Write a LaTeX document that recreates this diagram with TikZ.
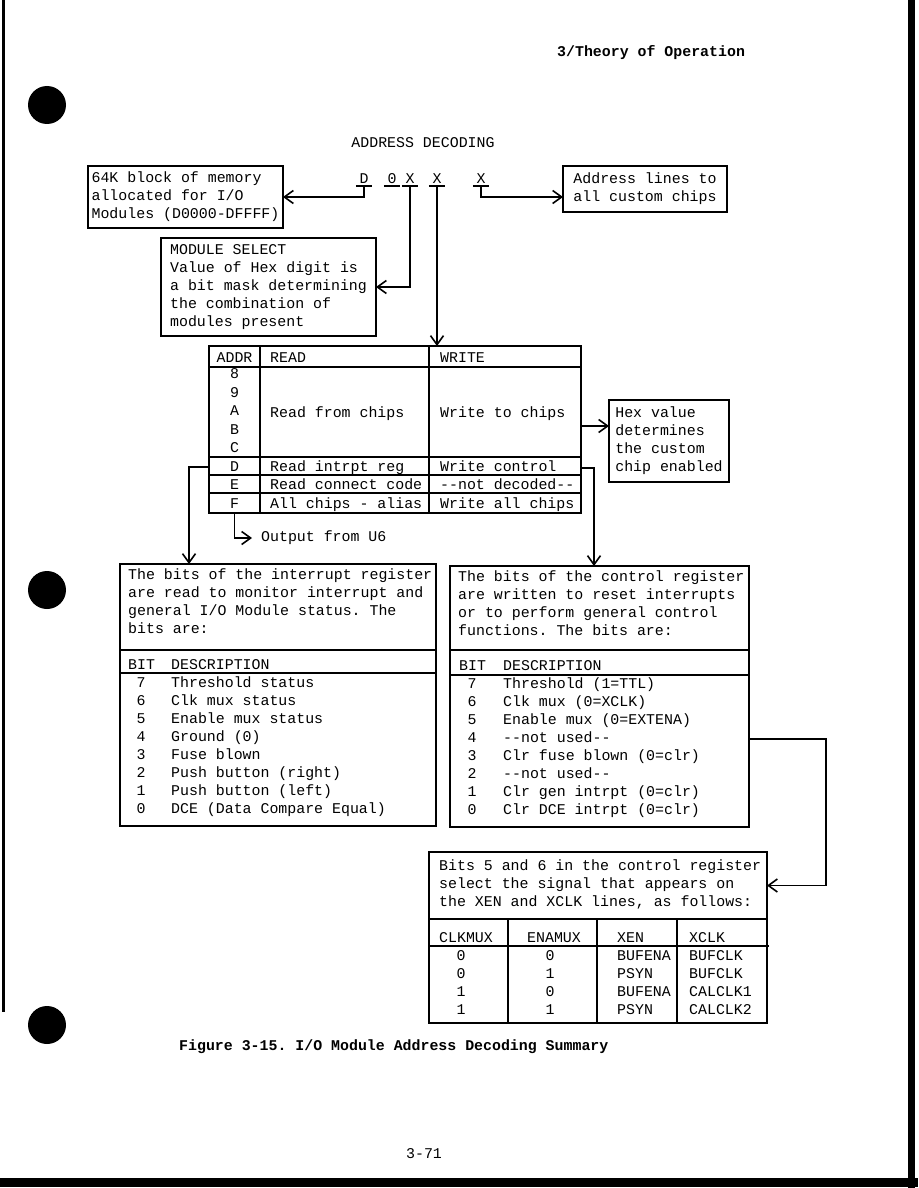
\documentclass[tikz,border=0pt]{standalone}
\usepackage{fontspec}
\setmonofont{Liberation Mono}
\usetikzlibrary{arrows.meta,positioning,calc}

\begin{document}
\begin{tikzpicture}[x=1pt,y=-1pt,font=\ttfamily\fontsize{14.9}{18}\selectfont,>={Straight Barb[length=9pt,width=13pt]},
  box/.style={draw,line width=1.8pt,align=left,inner sep=0pt,outer sep=0pt},
  frame/.style={draw,line width=1.8pt,inner sep=0pt,outer sep=0pt},
  rule/.style={line width=1.8pt},
  wire/.style={line width=1.6pt,->},
  lbl/.style={anchor=base west,inner sep=0pt,align=left},
  mid/.style={anchor=base,inner sep=0pt,align=center},
  digit/.style={anchor=base,inner xsep=3.5pt,inner ysep=3pt},
  bold/.style={font=\ttfamily\bfseries\fontsize{14.9}{18}\selectfont}]
\useasboundingbox (0,0) rectangle (918,1188);
\fill[white] (0,0) rectangle (918,1188);
% page edges and binder holes
\fill (2,0) rectangle (5,1012);
\fill (908,0) rectangle (915,1188);
\fill (0,1178) rectangle (918,1187);
\foreach \hy in {105,590,1025} \fill (47,\hy) circle (19pt);

\node[lbl,bold] (hdr) at (557,57) {3/Theory of Operation};
\node[mid] (ttl) at (423,147) {ADDRESS DECODING};

% address digits
\node[digit] (dD) at (364,183) {D};
\node[digit] (d0) at (392,183) {0};
\node[digit] (dA) at (410,183) {X};
\node[digit] (dB) at (437,183) {X};
\node[digit] (dC) at (481,183) {X};
\foreach \d in {dD,d0,dA,dB,dC} \draw[rule] (\d.south west) -- (\d.south east);

\node[box,minimum width=195pt,minimum height=62pt] (mem) at (185.5,197) {64K block of memory\\allocated for I/O\\Modules (D0000-DFFFF)};
\node[box,minimum width=164pt,minimum height=46pt] (addr) at (645,189) {Address lines to\\all custom chips};
\node[box,minimum width=215pt,minimum height=98pt] (sel) at (268.5,287) {MODULE SELECT\\Value of Hex digit is\\a bit mask determining\\the combination of\\modules present};

% decode table
\node[frame,minimum width=372pt,minimum height=167pt] (tab) at (395,429.5) {};
\draw[rule] (260,346) -- (260,513) (429,346) -- (429,513);
\foreach \ry in {367,457,475,493} \draw[rule] (209,\ry) -- (581,\ry);
\node[mid] (hAddr) at (234.5,362) {ADDR};
\node[lbl] (hRead) at (270,362) {READ};
\node[lbl] (hWrite) at (440,362) {WRITE};
\foreach \hx/\hy in {8/378,9/397,A/415,B/434,C/452,D/471,E/489,F/508}
  \node[mid] (a\hx) at (234.5,\hy) {\hx};
\node[lbl] (rchips) at (270,417) {Read from chips};
\node[lbl] (wchips) at (440,417) {Write to chips};
\node[lbl] (rint) at (270,471) {Read intrpt reg};
\node[lbl] (wctl) at (440,471) {Write control};
\node[lbl] (rconn) at (270,489) {Read connect code};
\node[lbl] (wnot) at (440,489) {-{}-not decoded-{}-};
\node[lbl] (ralias) at (270,508) {All chips - alias};
\node[lbl] (wall) at (440,508) {Write all chips};

\node[box,minimum width=120pt,minimum height=82pt] (hex) at (669,441) {Hex value\\determines\\the custom\\chip enabled};
\node[anchor=west,inner sep=0pt] (u6) at (261,538) {Output from U6};

% interrupt register (multi-line texts sit on their last baseline)
\node[frame,minimum width=316pt,minimum height=86pt,anchor=north west] (inthead) at (120,564) {};
\node[frame,minimum width=316pt,minimum height=176pt,below=0pt of inthead] (intbits) {};
\draw[rule] (120,673) -- (436,673);
\node[lbl] (inttxt) at (128,633) {The bits of the interrupt register\\are read to monitor interrupt and\\general I/O Module status. The\\bits are:};
\node[lbl] (intbit) at (128,669) {BIT};
\node[lbl] (intdesc) at (171,669) {DESCRIPTION};
\node[mid] (intnum) at (141,813) {7\\6\\5\\4\\3\\2\\1\\0};
\node[lbl] (intlist) at (171,813) {Threshold status\\Clk mux status\\Enable mux status\\Ground (0)\\Fuse blown\\Push button (right)\\Push button (left)\\DCE (Data Compare Equal)};

% control register
\node[frame,minimum width=299pt,minimum height=84pt,anchor=north west] (ctlhead) at (450,566) {};
\node[frame,minimum width=299pt,minimum height=177pt,below=0pt of ctlhead] (ctlbits) {};
\draw[rule] (450,675) -- (749,675);
\node[lbl] (ctltxt) at (458,635) {The bits of the control register\\are written to reset interrupts\\or to perform general control\\functions. The bits are:};
\node[lbl] (ctlbit) at (459,670) {BIT};
\node[lbl] (ctldesc) at (503,670) {DESCRIPTION};
\node[mid] (ctlnum) at (472,814) {7\\6\\5\\4\\3\\2\\1\\0};
\node[lbl] (ctllist) at (503,814) {Threshold (1=TTL)\\Clk mux (0=XCLK)\\Enable mux (0=EXTENA)\\-{}-not used-{}-\\Clr fuse blown (0=clr)\\-{}-not used-{}-\\Clr gen intrpt (0=clr)\\Clr DCE intrpt (0=clr)};

% mux select table
\node[frame,minimum width=338pt,minimum height=67pt,anchor=north west] (muxhead) at (429,852) {};
\node[frame,minimum width=338pt,minimum height=104pt,below=0pt of muxhead] (muxtab) {};
\node[lbl] (muxtxt) at (439,906) {Bits 5 and 6 in the control register\\select the signal that appears on\\the XEN and XCLK lines, as follows:};
\draw[rule] (508,919) -- (508,1023) (597,919) -- (597,1023) (677,919) -- (677,1023);
\draw[rule] (429,946) -- (769,946);
\node[lbl] (hClk) at (439,942) {CLKMUX};
\node[mid] (hEna) at (554,942) {ENAMUX};
\node[lbl] (hXen) at (617,942) {XEN};
\node[lbl] (hXclk) at (689,942) {XCLK};
\node[mid] (vClk) at (461,1014) {0\\0\\1\\1};
\node[mid] (vEna) at (550,1014) {0\\1\\0\\1};
\node[lbl] (vXen) at (617,1014) {BUFENA\\PSYN\\BUFENA\\PSYN};
\node[lbl] (vXclk) at (689,1014) {BUFCLK\\BUFCLK\\CALCLK1\\CALCLK2};

\node[lbl,bold] (cap) at (179,1050) {Figure 3-15. I/O Module Address Decoding Summary};
\node[mid] (pg) at (424,1158) {3-71};

% connectors
\coordinate (wsel) at (581,426);
\coordinate (wtap) at (581,468);
\coordinate (rtap) at (209,467);
\coordinate (u6tap) at (234.5,513);
\coordinate (b4tap) at (749,739);
\draw[wire] (dD.south) |- (mem.east);
\draw[wire] (dA.south) |- (sel.east);
\draw[wire] (dB.south) -- (dB.south |- tab.north);
\draw[wire] (dC.south) |- (addr.west |- mem.east);
\draw[wire] (wsel) -- (wsel -| hex.west);
\draw[wire] (wtap) -- ++(13,0) coordinate (wbend) -- (wbend |- ctlhead.north);
\draw[wire] (rtap) -- ++(-20,0) coordinate (rbend) -- (rbend |- inthead.north);
\draw[wire] (u6tap) |- ($(u6.west)+(-9,0)$);
\draw[wire] (b4tap) -- ++(77,0) coordinate (cbend) |- (muxhead.east);
\end{tikzpicture}
\end{document}
